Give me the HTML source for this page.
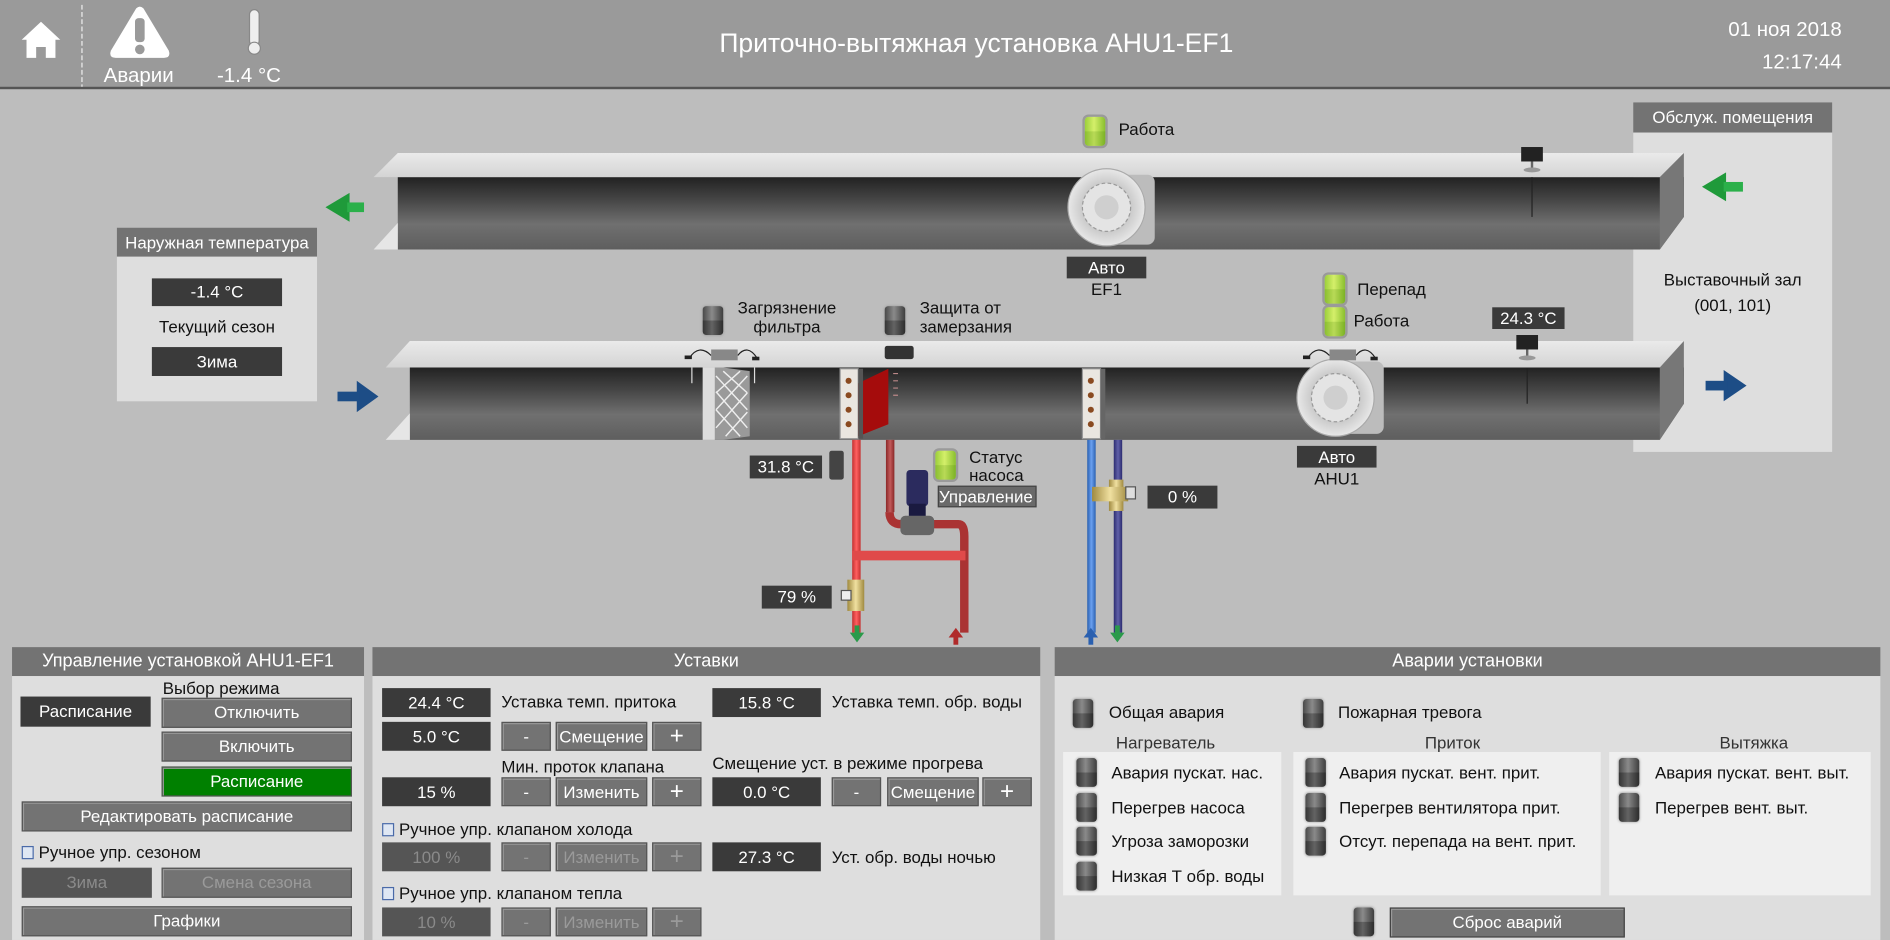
<!DOCTYPE html>
<html><head><meta charset="utf-8">
<style>
*{box-sizing:border-box;margin:0;padding:0}
body{width:1890px;height:940px;overflow:hidden;background:#bdbdbd;font-family:"Liberation Sans","DejaVu Sans",sans-serif}
#w{position:absolute;left:0;top:0;width:1568px;height:780px;transform:scale(1.20536,1.2051);transform-origin:0 0;background:#bdbdbd}
.a{position:absolute;white-space:nowrap}
.t{position:absolute;white-space:nowrap;font-size:14px;color:#111}
.box{position:absolute;background:#3a3a3a;color:#fff;font-size:14px;text-align:center}
.btn{position:absolute;background:#737373;color:#fff;font-size:14px;text-align:center;border:1px solid #555;box-shadow:inset 1px 1px 0 #999}
.dis{color:#9a9a9a}
.dbox{position:absolute;background:#555;color:#8a8a8a;font-size:14px;text-align:center}
.ind{position:absolute;width:17px;height:24px;border-radius:3px;background:linear-gradient(to right,#4a4a4a,#8a8a8a 45%,#3e3e3e);box-shadow:0 0 2px #999}
.ind::after{content:"";position:absolute;left:0;right:0;bottom:0;height:50%;background:rgba(0,0,0,.28);border-radius:0 0 3px 3px}
.g{background:linear-gradient(to right,#9ccf3a,#d4ef6a 45%,#89bf2e);box-shadow:0 0 0 2px #9a9a9a}
.g::after{background:rgba(60,120,0,.18)}
.hd{position:absolute;background:#737373;color:#fff;font-size:15px;text-align:center}
.pb{position:absolute;background:#dedede}
.cb{display:inline-block;width:10px;height:11px;border:1px solid #4a6aa8;background:#dfe7f3;margin-right:4px;vertical-align:-1px}
</style></head><body><div id="w">
<!-- header -->
<div class="a" style="left:0;top:0;width:1568px;height:74px;background:#9a9a9a;border-bottom:2px solid #555"></div>
<svg class="a" style="left:0;top:0" width="260" height="74">
<polygon points="34,18 18,33 22,33 22,48 30,48 30,39 38,39 38,48 46,48 46,33 50,33" fill="#fff"/>
<line x1="68" y1="4" x2="68" y2="72" stroke="#eee" stroke-dasharray="4,2"/>
<path d="M113,7 Q116,4 119,7 L140,42 Q142,48 136,48 L96,48 Q90,48 92,42 Z" fill="#fff"/>
<rect x="112" y="15" width="8" height="20" rx="3" fill="#9a9a9a"/><circle cx="116" cy="41" r="4" fill="#9a9a9a"/>
<rect x="207" y="8" width="8" height="30" rx="4" fill="#eee" stroke="#888"/><circle cx="211" cy="40" r="5" fill="#eee" stroke="#888"/>
</svg>
<div class="a" style="left:86px;top:53px;color:#fff;font-size:17px">Аварии</div>
<div class="a" style="left:180px;top:53px;color:#fff;font-size:17px">-1.4 °C</div>
<div class="a" style="left:560px;top:23px;width:500px;text-align:center;color:#fff;font-size:22px">Приточно-вытяжная установка AHU1-EF1</div>
<div class="a" style="left:1380px;top:11px;width:148px;text-align:right;color:#fff;font-size:17px;line-height:27px">01 ноя 2018<br>12:17:44</div>

<!-- right panel (behind ducts) -->
<div class="hd" style="left:1355px;top:85px;width:165px;height:25px;line-height:25px;font-size:14px">Обслуж. помещения</div>
<div class="pb" style="left:1355px;top:110px;width:165px;height:265px"></div>

<!-- diagram svg -->
<svg class="a" style="left:0;top:76px" width="1568" height="460" viewBox="0 76 1568 460">
<defs>
<linearGradient id="df" x1="0" y1="0" x2="0" y2="1"><stop offset="0" stop-color="#222"/><stop offset=".3" stop-color="#444"/><stop offset=".65" stop-color="#707070"/><stop offset="1" stop-color="#5e5e5e"/></linearGradient>
<linearGradient id="tf" x1="0" y1="0" x2="0" y2="1"><stop offset="0" stop-color="#eaeaea"/><stop offset="1" stop-color="#d4d4d4"/></linearGradient>
<radialGradient id="fan"><stop offset="0" stop-color="#d6d6d6"/><stop offset=".6" stop-color="#c8c8c8"/><stop offset="1" stop-color="#e8e8e8"/></radialGradient>
<linearGradient id="rp" x1="0" x2="1"><stop offset="0" stop-color="#c43030"/><stop offset=".5" stop-color="#ff6060"/><stop offset="1" stop-color="#c43030"/></linearGradient>
<linearGradient id="rd" x1="0" x2="1"><stop offset="0" stop-color="#8a2828"/><stop offset=".5" stop-color="#c35a5a"/><stop offset="1" stop-color="#8a2828"/></linearGradient>
<linearGradient id="bp" x1="0" x2="1"><stop offset="0" stop-color="#2a60b0"/><stop offset=".5" stop-color="#6aa0f0"/><stop offset="1" stop-color="#2a60b0"/></linearGradient>
<linearGradient id="pp" x1="0" x2="1"><stop offset="0" stop-color="#2c2c70"/><stop offset=".5" stop-color="#6060a8"/><stop offset="1" stop-color="#2c2c70"/></linearGradient>
<linearGradient id="br" x1="0" x2="1"><stop offset="0" stop-color="#a08a40"/><stop offset=".5" stop-color="#f0e0a0"/><stop offset="1" stop-color="#a08a40"/></linearGradient>
</defs>
<!-- top duct -->
<polygon points="330,147 1397,147 1397,180 1377,207 330,207" fill="url(#df)"/>
<polygon points="330,127 1397,127 1377,147 310,147" fill="url(#tf)"/>
<polygon points="1377,147 1397,127 1397,180 1377,207" fill="#777"/>
<polygon points="310,207 330,185 330,207" fill="#e6e6e6"/>
<!-- fan EF1 -->
<rect x="918" y="145" width="40" height="58" rx="6" fill="#bcbcbc"/>
<circle cx="918" cy="172" r="32" fill="url(#fan)" stroke="#aaa"/>
<circle cx="918" cy="172" r="20" fill="#e4e4e4" stroke="#9a9a9a" stroke-dasharray="3,2"/>
<circle cx="918" cy="172" r="10" fill="#cfcfcf"/>
<!-- top sensor -->
<rect x="1262" y="122" width="18" height="12" fill="#222"/><line x1="1271" y1="134" x2="1271" y2="140" stroke="#666" stroke-width="2"/><ellipse cx="1271" cy="141" rx="7" ry="2" fill="#999"/><line x1="1271" y1="147" x2="1271" y2="180" stroke="#222"/>
<!-- green arrows -->
<g fill="#1f9a3a"><polygon points="270,172 290,160 290,184"/><rect x="288" y="168" width="14" height="8" fill="#2bb04a"/></g>
<g fill="#1f9a3a"><polygon points="1412,155 1432,143 1432,167"/><rect x="1430" y="151" width="16" height="8" fill="#2bb04a"/></g>
<!-- bottom duct -->
<polygon points="340,305 1397,305 1397,335 1377,365 340,365" fill="url(#df)"/>
<polygon points="340,283 1397,283 1377,305 320,305" fill="url(#tf)"/>
<polygon points="1377,305 1397,283 1397,335 1377,365" fill="#777"/>
<polygon points="320,365 340,343 340,365" fill="#e6e6e6"/>
<!-- blue arrows -->
<g fill="#1d4d86"><polygon points="314,329 296,316 296,342"/><rect x="280" y="325" width="18" height="8"/></g>
<g fill="#1d4d86"><polygon points="1449,320 1430,307 1430,333"/><rect x="1415" y="316" width="18" height="8"/></g>
<!-- filter -->
<polygon points="583,305 600,305 622,308 622,362 600,365 583,365" fill="#9a9a9a"/>
<rect x="583" y="305" width="10" height="60" fill="#ddd"/>
<g stroke="#eee" stroke-width="1.2"><path d="M594,312 L620,340 M594,325 L620,355 M594,340 L614,362 M600,308 L620,326"/><path d="M620,312 L594,340 M620,326 L594,355 M614,308 L594,326 M620,342 L602,362"/></g>
<!-- heater coil -->
<rect x="697" y="306" width="15" height="58" fill="#eae6e0" stroke="#999"/>
<g fill="#8a4a20"><circle cx="704" cy="316" r="2.5"/><circle cx="704" cy="328" r="2.5"/><circle cx="704" cy="340" r="2.5"/><circle cx="704" cy="352" r="2.5"/></g>
<polygon points="712,318 737,306 737,352 712,362" fill="#a50c0c"/>
<rect x="712" y="306" width="4" height="58" fill="#555"/>
<g stroke="#b88" stroke-width="1"><path d="M741,310 l4,0 M741,316 l4,0 M741,322 l4,0 M741,328 l4,0"/></g>
<!-- cooler coil -->
<rect x="898" y="306" width="15" height="58" fill="#eae6e0" stroke="#999"/>
<g fill="#8a4a20"><circle cx="905" cy="316" r="2.5"/><circle cx="905" cy="328" r="2.5"/><circle cx="905" cy="340" r="2.5"/><circle cx="905" cy="352" r="2.5"/></g>
<rect x="913" y="306" width="4" height="58" fill="#666"/>
<!-- fan AHU1 -->
<rect x="1108" y="300" width="40" height="60" rx="6" fill="#bcbcbc"/>
<circle cx="1108" cy="330" r="32" fill="url(#fan)" stroke="#aaa"/>
<circle cx="1108" cy="330" r="20" fill="#e4e4e4" stroke="#9a9a9a" stroke-dasharray="3,2"/>
<circle cx="1108" cy="330" r="10" fill="#cfcfcf"/>
<!-- duct devices -->
<g><path d="M572,297 q8,-12 18,-2 M612,295 q8,-10 16,2" fill="none" stroke="#222"/><rect x="590" y="290" width="22" height="9" fill="#888"/><rect x="568" y="295" width="6" height="3" fill="#222"/><rect x="624" y="296" width="6" height="3" fill="#222"/><line x1="574" y1="305" x2="574" y2="318" stroke="#ddd"/><line x1="626" y1="305" x2="626" y2="318" stroke="#ddd"/></g>
<g><path d="M1085,297 q8,-12 18,-2 M1125,295 q8,-10 16,2" fill="none" stroke="#222"/><rect x="1103" y="290" width="22" height="9" fill="#888"/><rect x="1081" y="295" width="6" height="3" fill="#222"/><rect x="1137" y="296" width="6" height="3" fill="#222"/></g>
<rect x="734" y="287" width="24" height="11" rx="2" fill="#333"/>
<rect x="1258" y="278" width="18" height="12" fill="#222"/><line x1="1267" y1="290" x2="1267" y2="296" stroke="#666" stroke-width="2"/><ellipse cx="1267" cy="297" rx="7" ry="2" fill="#999"/><line x1="1267" y1="305" x2="1267" y2="335" stroke="#222"/>
<!-- pipes -->
<rect x="707" y="365" width="7" height="160" fill="url(#rp)"/>
<rect x="735" y="365" width="7" height="60" fill="url(#rd)"/>
<path d="M738,425 Q738,435 748,435 L795,435 Q800,435 800,445 L800,525" fill="none" stroke="#a33" stroke-width="7"/>
<rect x="707" y="457" width="94" height="8" fill="#e04a4a"/>
<rect x="902" y="365" width="7" height="160" fill="url(#bp)"/>
<rect x="924" y="365" width="7" height="160" fill="url(#pp)"/>
<!-- pump -->
<rect x="752" y="390" width="18" height="30" rx="3" fill="#2b2b5e"/>
<rect x="754" y="418" width="14" height="14" fill="#1a1a40"/>
<rect x="747" y="428" width="28" height="16" rx="4" fill="#666"/>
<!-- sensor 31.8 -->
<rect x="688" y="374" width="12" height="24" rx="2" fill="#444"/>
<!-- valves -->
<rect x="703" y="481" width="14" height="26" fill="url(#br)"/><rect x="698" y="490" width="8" height="8" fill="#eee" stroke="#555"/>
<rect x="920" y="398" width="12" height="26" fill="url(#br)"/><rect x="906" y="404" width="30" height="12" fill="url(#br)"/><rect x="934" y="404" width="8" height="10" fill="#ddd" stroke="#555"/>
<!-- small arrows -->
<g fill="#2a9a4a"><polygon points="705,525 717,525 711,533"/><rect x="709" y="519" width="4" height="7"/></g>
<g fill="#b02a2a"><polygon points="787,529 799,529 793,521"/><rect x="791" y="528" width="4" height="7"/></g>
<g fill="#2a60b0"><polygon points="899,529 911,529 905,521"/><rect x="903" y="528" width="4" height="7"/></g>
<g fill="#2a9a4a"><polygon points="921,525 933,525 927,533"/><rect x="925" y="519" width="4" height="7"/></g>
</svg>

<!-- diagram labels -->
<div class="ind g" style="left:900px;top:97px"></div><div class="t" style="left:928px;top:99px">Работа</div>
<div class="box" style="left:885px;top:213px;width:66px;height:18px;line-height:18px">Авто</div>
<div class="t" style="left:885px;top:232px;width:66px;text-align:center">EF1</div>
<div class="box" style="left:1076px;top:370px;width:66px;height:18px;line-height:18px">Авто</div>
<div class="t" style="left:1076px;top:389px;width:66px;text-align:center">AHU1</div>
<div class="t" style="left:1355px;top:222px;width:165px;text-align:center;line-height:21px">Выставочный зал<br>(001, 101)</div>
<div class="hd" style="left:97px;top:189px;width:166px;height:24px;line-height:24px;font-size:14px">Наружная температура</div>
<div class="pb" style="left:97px;top:213px;width:166px;height:120px"></div>
<div class="box" style="left:126px;top:231px;width:108px;height:23px;line-height:23px">-1.4 °C</div>
<div class="t" style="left:97px;top:263px;width:166px;text-align:center">Текущий сезон</div>
<div class="box" style="left:126px;top:288px;width:108px;height:24px;line-height:24px">Зима</div>
<div class="ind" style="left:583px;top:254px"></div><div class="t" style="left:612px;top:247px;line-height:16px;text-align:center">Загрязнение<br>фильтра</div>
<div class="ind" style="left:734px;top:254px"></div><div class="t" style="left:763px;top:247px;line-height:16px">Защита от<br>замерзания</div>
<div class="ind g" style="left:1099px;top:228px"></div><div class="t" style="left:1126px;top:232px">Перепад</div>
<div class="ind g" style="left:1099px;top:255px"></div><div class="t" style="left:1123px;top:258px">Работа</div>
<div class="box" style="left:1238px;top:255px;width:60px;height:18px;line-height:18px">24.3 °C</div>
<div class="box" style="left:622px;top:378px;width:60px;height:19px;line-height:19px">31.8 °C</div>
<div class="box" style="left:632px;top:486px;width:58px;height:19px;line-height:19px">79 %</div>
<div class="box" style="left:952px;top:403px;width:58px;height:19px;line-height:19px">0 %</div>
<div class="ind g" style="left:776px;top:374px"></div><div class="t" style="left:804px;top:372px;line-height:15px">Статус<br>насоса</div>
<div class="a" style="left:778px;top:403px;width:82px;height:18px;line-height:17px;background:#6a6a6a;border:1px solid #444;color:#fff;font-size:14px">Управление</div>

<!-- panel 1 -->
<div class="hd" style="left:10px;top:537px;width:292px;height:24px;line-height:24px">Управление установкой AHU1-EF1</div>
<div class="pb" style="left:10px;top:561px;width:292px;height:219px"></div>
<div class="t" style="left:135px;top:563px">Выбор режима</div>
<div class="box" style="left:17px;top:578px;width:108px;height:25px;line-height:25px">Расписание</div>
<div class="btn" style="left:134px;top:579px;width:158px;height:25px;line-height:23px">Отключить</div>
<div class="btn" style="left:134px;top:607px;width:158px;height:25px;line-height:23px">Включить</div>
<div class="btn" style="left:134px;top:636px;width:158px;height:25px;line-height:23px;background:#008000">Расписание</div>
<div class="btn" style="left:18px;top:665px;width:274px;height:25px;line-height:23px">Редактировать расписание</div>
<div class="t" style="left:18px;top:699px"><span class="cb"></span>Ручное упр. сезоном</div>
<div class="dbox" style="left:18px;top:720px;width:108px;height:25px;line-height:25px">Зима</div>
<div class="btn dis" style="left:134px;top:720px;width:158px;height:25px;line-height:23px">Смена сезона</div>
<div class="btn" style="left:18px;top:752px;width:274px;height:25px;line-height:23px">Графики</div>

<!-- panel 2 -->
<div class="hd" style="left:309px;top:537px;width:554px;height:24px;line-height:24px">Уставки</div>
<div class="pb" style="left:309px;top:561px;width:554px;height:219px"></div>
<div class="box" style="left:317px;top:571px;width:90px;height:24px;line-height:24px">24.4 °C</div>
<div class="t" style="left:416px;top:574px">Уставка темп. притока</div>
<div class="box" style="left:591px;top:571px;width:90px;height:24px;line-height:24px">15.8 °C</div>
<div class="t" style="left:690px;top:574px">Уставка темп. обр. воды</div>
<div class="box" style="left:317px;top:599px;width:90px;height:24px;line-height:24px">5.0 °C</div>
<div class="btn" style="left:416px;top:599px;width:41px;height:24px;line-height:22px">-</div>
<div class="btn" style="left:461px;top:599px;width:76px;height:24px;line-height:22px">Смещение</div>
<div class="btn" style="left:541px;top:599px;width:41px;height:24px;line-height:22px;font-size:20px">+</div>
<div class="t" style="left:416px;top:628px">Мин. проток клапана</div>
<div class="t" style="left:591px;top:625px">Смещение уст. в режиме прогрева</div>
<div class="box" style="left:317px;top:645px;width:90px;height:24px;line-height:24px">15 %</div>
<div class="btn" style="left:416px;top:645px;width:41px;height:24px;line-height:22px">-</div>
<div class="btn" style="left:461px;top:645px;width:76px;height:24px;line-height:22px">Изменить</div>
<div class="btn" style="left:541px;top:645px;width:41px;height:24px;line-height:22px;font-size:20px">+</div>
<div class="box" style="left:591px;top:645px;width:90px;height:24px;line-height:24px">0.0 °C</div>
<div class="btn" style="left:690px;top:645px;width:41px;height:24px;line-height:22px">-</div>
<div class="btn" style="left:736px;top:645px;width:76px;height:24px;line-height:22px">Смещение</div>
<div class="btn" style="left:815px;top:645px;width:41px;height:24px;line-height:22px;font-size:20px">+</div>
<div class="t" style="left:317px;top:680px"><span class="cb"></span>Ручное упр. клапаном холода</div>
<div class="dbox" style="left:317px;top:699px;width:90px;height:24px;line-height:24px">100 %</div>
<div class="btn dis" style="left:416px;top:699px;width:41px;height:24px;line-height:22px">-</div>
<div class="btn dis" style="left:461px;top:699px;width:76px;height:24px;line-height:22px">Изменить</div>
<div class="btn dis" style="left:541px;top:699px;width:41px;height:24px;line-height:22px;font-size:20px">+</div>
<div class="box" style="left:591px;top:699px;width:90px;height:24px;line-height:24px">27.3 °C</div>
<div class="t" style="left:690px;top:703px">Уст. обр. воды ночью</div>
<div class="t" style="left:317px;top:733px"><span class="cb"></span>Ручное упр. клапаном тепла</div>
<div class="dbox" style="left:317px;top:753px;width:90px;height:24px;line-height:24px">10 %</div>
<div class="btn dis" style="left:416px;top:753px;width:41px;height:24px;line-height:22px">-</div>
<div class="btn dis" style="left:461px;top:753px;width:76px;height:24px;line-height:22px">Изменить</div>
<div class="btn dis" style="left:541px;top:753px;width:41px;height:24px;line-height:22px;font-size:20px">+</div>

<!-- panel 3 -->
<div class="hd" style="left:875px;top:537px;width:685px;height:24px;line-height:24px">Аварии установки</div>
<div class="pb" style="left:875px;top:561px;width:685px;height:219px"></div>
<div class="ind" style="left:890px;top:580px"></div><div class="t" style="left:920px;top:583px">Общая авария</div>
<div class="ind" style="left:1081px;top:580px"></div><div class="t" style="left:1110px;top:583px">Пожарная тревога</div>
<div class="t" style="left:882px;top:608px;width:170px;text-align:center;color:#333">Нагреватель</div>
<div class="t" style="left:1120px;top:608px;width:170px;text-align:center;color:#333">Приток</div>
<div class="t" style="left:1370px;top:608px;width:170px;text-align:center;color:#333">Вытяжка</div>
<div class="a" style="left:882px;top:624px;width:181px;height:119px;background:#efefef"></div>
<div class="a" style="left:1073px;top:624px;width:255px;height:119px;background:#efefef"></div>
<div class="a" style="left:1335px;top:624px;width:217px;height:119px;background:#efefef"></div>
<div class="ind" style="left:893px;top:629px"></div><div class="t" style="left:922px;top:633px">Авария пускат. нас.</div>
<div class="ind" style="left:893px;top:658px"></div><div class="t" style="left:922px;top:662px">Перегрев насоса</div>
<div class="ind" style="left:893px;top:686px"></div><div class="t" style="left:922px;top:690px">Угроза заморозки</div>
<div class="ind" style="left:893px;top:715px"></div><div class="t" style="left:922px;top:719px">Низкая Т обр. воды</div>
<div class="ind" style="left:1083px;top:629px"></div><div class="t" style="left:1111px;top:633px">Авария пускат. вент. прит.</div>
<div class="ind" style="left:1083px;top:658px"></div><div class="t" style="left:1111px;top:662px">Перегрев вентилятора прит.</div>
<div class="ind" style="left:1083px;top:686px"></div><div class="t" style="left:1111px;top:690px">Отсут. перепада на вент. прит.</div>
<div class="ind" style="left:1343px;top:629px"></div><div class="t" style="left:1373px;top:633px">Авария пускат. вент. выт.</div>
<div class="ind" style="left:1343px;top:658px"></div><div class="t" style="left:1373px;top:662px">Перегрев вент. выт.</div>
<div class="ind" style="left:1123px;top:753px"></div>
<div class="btn" style="left:1153px;top:753px;width:195px;height:25px;line-height:23px;border-color:#444">Сброс аварий</div>
</div></body></html>
